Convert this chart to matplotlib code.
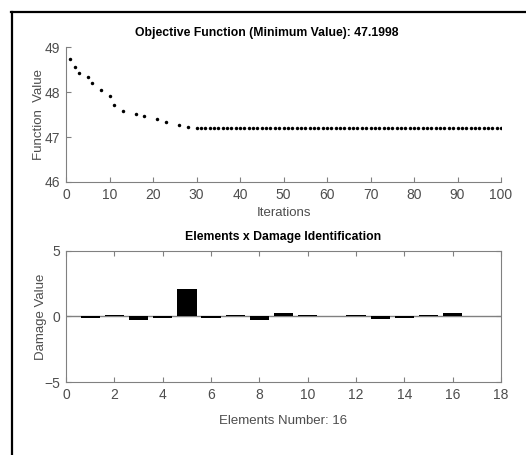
import matplotlib.pyplot as plt
from matplotlib.lines import Line2D

# objective function history (best value per iteration)
iters_early = [1, 2, 3, 5, 6, 8, 10, 11, 13, 16, 18, 21, 23, 26, 28]
fval_early = [48.73, 48.56, 48.43, 48.34, 48.21, 48.05, 47.91, 47.71,
              47.58, 47.51, 47.46, 47.39, 47.33, 47.26, 47.23]
iters_late = list(range(30, 101))
best_value = 47.1998
fval_late = [best_value] * len(iters_late)

# damage per element
elements = list(range(1, 17))
damage = [-0.1, 0.1, -0.25, -0.15, 2.1, -0.15, 0.08, -0.25,
          0.3, 0.15, 0.07, 0.15, -0.2, -0.08, 0.15, 0.25]

plt.rcParams['font.family'] = ['Liberation Sans', 'DejaVu Sans']
grey = '#4d4d4d'
spine_c = '#808080'


def style_axes(ax):
    for s in ax.spines.values():
        s.set_color(spine_c)
        s.set_linewidth(0.8)
    ax.tick_params(direction='in', length=3.5, color=spine_c,
                   labelcolor=grey, labelsize=10, width=0.8, pad=4)


def main():
    fig = plt.figure(figsize=(5.26, 4.55), dpi=100)

    # outer frame (left and top edges)
    fig.add_artist(Line2D([12 / 526, 12 / 526], [0, 1 - 12 / 455],
                          transform=fig.transFigure, color='black', lw=1.6))
    fig.add_artist(Line2D([11 / 526, 1], [1 - 12 / 455, 1 - 12 / 455],
                          transform=fig.transFigure, color='black', lw=1.6))

    ax1 = fig.add_axes([0.1255, 0.600, 0.827, 0.2967])
    ax1.plot(iters_early, fval_early, 'o', color='black', ms=2.5, mew=0)
    ax1.plot(iters_late, fval_late, 'o', color='black', ms=2.5, mew=0)
    ax1.set_xlim(0, 100)
    ax1.set_ylim(46, 49)
    ax1.set_xticks(range(0, 101, 10))
    ax1.set_yticks([46, 47, 48, 49])
    ax1.spines['top'].set_visible(False)
    ax1.spines['right'].set_visible(False)
    style_axes(ax1)
    ax1.set_title('Objective Function (Minimum Value): %.4f' % best_value,
                  fontsize=8.8, fontweight='bold', pad=8, x=0.462)
    ax1.set_xlabel('Iterations', fontsize=9.5, color=grey, labelpad=4)
    ax1.set_ylabel('Function  Value', fontsize=9.5, color=grey, labelpad=0)

    ax2 = fig.add_axes([0.1255, 0.1604, 0.827, 0.288])
    ax2.bar(elements, damage, width=0.8, color='black')
    ax2.axhline(0, color=spine_c, lw=1.0, zorder=0)
    ax2.set_xlim(0, 18)
    ax2.set_ylim(-5, 5)
    ax2.set_xticks(range(0, 19, 2))
    ax2.set_yticks([-5, 0, 5])
    ax2.tick_params(top=True, right=True)
    style_axes(ax2)
    ax2.set_title('Elements x Damage Identification',
                  fontsize=8.8, fontweight='bold', pad=8)
    ax2.set_xlabel('Elements Number: 16', fontsize=9.5, color=grey, labelpad=10)
    ax2.set_ylabel('Damage Value', fontsize=9.5, color=grey, labelpad=-2)

    fig.savefig('out.png', dpi=100)


if __name__ == "__main__":
    main()
